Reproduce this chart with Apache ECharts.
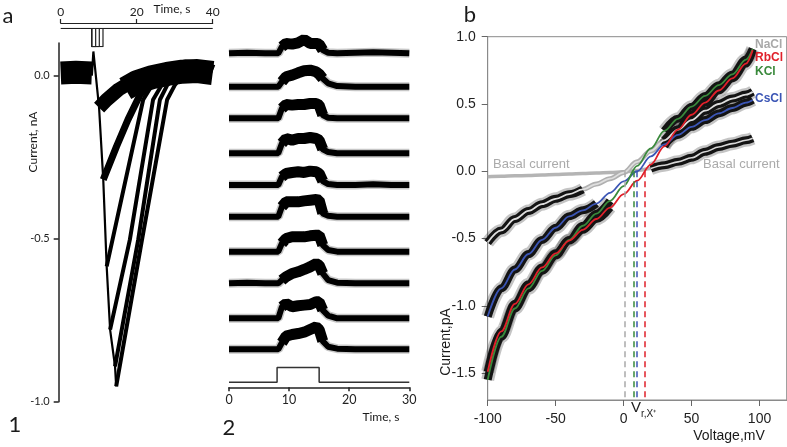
<!DOCTYPE html>
<html><head><meta charset="utf-8">
<script src="https://cdn.jsdelivr.net/npm/echarts@6/dist/echarts.min.js"></script>
<style>html,body{margin:0;padding:0;background:#fff}#c{width:787px;height:447px}</style>
</head><body><div id="c"></div>
<script>
// ===== Panel a1: current traces (time s, current nA) =====
const a1XTicks = [0, 20, 40];
const a1YTicks = [-1.0, -0.5, 0.0];
const a1Pre  = [[0,0.008],[4,0.01],[8.2,0.008]];
const a1Drop = [[8.2,0.0],[8.6,0.074],[10.1,-0.098],[11.2,-0.319],[12.1,-0.585],[13.0,-0.779],[14.3,-0.892],[14.6,-0.953]];
const a1Tail = [[17,-0.04],[20,-0.02],[24,-0.005],[28,0.005],[32,0.012],[36,0.014],[40,0.008]];
const a1Tr1 = [[10.1,-0.098],[12,-0.075],[15.2,-0.043],[19.6,-0.012],[23.9,-0.003],[28.3,0.009],[32.7,0.028],[37.1,0.025],[40,0.012]];
const a1Tr2 = [[11.2,-0.319],[14.7,-0.217],[17.7,-0.135],[20.9,-0.058],[23.5,-0.028],[26,-0.012]];
const a1Tr3 = [[12.1,-0.585],[21.7,-0.074],[24,-0.03],[26.5,-0.01]];
const a1Tr4 = [[13.0,-0.779],[18.2,-0.503],[24.3,-0.074],[26.5,-0.03],[28.2,-0.006]];
const a1Tr5 = [[14.3,-0.892],[20.4,-0.503],[26.1,-0.074],[28,-0.03],[30.1,-0.006]];
const a1Tr6 = [[14.6,-0.953],[21.4,-0.503],[28.0,-0.074],[30,-0.03],[32,0.0]];
// stimulus pulses (s)
const a1StimStart = 8.16;
const a1StimEnds = [9.2, 10.16, 11.13];

// ===== Panel a2: stacked traces (time s, relative units) =====
const a2XTicks = [0, 10, 20, 30];
const a2T = [0, 3, 6, 8.2, 8.8, 9.5, 10.5, 11.5, 12.5, 13.5, 14.5, 15.0, 15.6, 16.5, 18, 21, 24, 27, 30];
const a2Offsets = [10.12, 9.11, 8.15, 7.09, 6.13, 5.17, 4.11, 3.15, 2.09, 1.15];
const a2Tr1  = [0,0.02,0,0,0.2,0.3,0.28,0.32,0.42,0.3,0.3,0.28,0.1,0.02,0,0.02,0.03,0.02,0];
const a2Tr2  = [0,0,0,0,0.15,0.3,0.35,0.42,0.48,0.5,0.45,0.38,0.25,0.1,0.02,0,0,0,0];
const a2Tr3  = [0,0,0,0,0.3,0.42,0.4,0.42,0.42,0.45,0.45,0.4,0.1,0.02,0,0,0,0,0];
const a2Tr4  = [0,0,0,0,0.3,0.45,0.4,0.45,0.45,0.48,0.45,0.4,0.12,0.04,0,0,0,0,0];
const a2Tr5  = [0,0,0,0,0.25,0.35,0.38,0.4,0.38,0.42,0.4,0.35,0.12,0.03,0,0,0.02,0,0];
const a2Tr6  = [0,0,0,0,0.3,0.45,0.45,0.45,0.48,0.5,0.52,0.5,0.1,0.03,0,0,0,0,0];
const a2Tr7  = [0,0,0,0,0.25,0.4,0.45,0.45,0.45,0.48,0.5,0.5,0.2,0.05,0,0,0,0,0];
const a2Tr8  = [0,0.02,0,0,0.1,0.2,0.3,0.35,0.42,0.5,0.6,0.55,0.3,0.1,0.02,0,0,0,0];
const a2Tr9  = [0,0,0,0,0.35,0.45,0.35,0.38,0.4,0.42,0.5,0.5,0.25,0.08,0,0,0,0,0];
const a2Tr10 = [0,0,0,0,0.2,0.4,0.45,0.48,0.52,0.6,0.68,0.6,0.25,0.08,0.02,0,0,0,0];
const a2StepT = [0, 8, 8, 15, 15, 30];
const a2StepV = [0.15, 0.15, 0.6, 0.6, 0.15, 0.15];

// ===== Panel b: I-V curves (mV, pA) =====
const bXTicks = [-100, -50, 0, 50, 100];
const bYTicks = [-1.5, -1.0, -0.5, 0.0, 0.5, 1.0];
const bV     = [-100,-90,-80,-70,-60,-50,-40,-30,-20,-10,0,10,20,30,40,50,60,70,80,90,95];
const basal  = [-0.04,-0.037,-0.034,-0.031,-0.028,-0.025,-0.021,-0.017,-0.013,-0.009,-0.004,0.005,0.02,0.045,0.07,0.1,0.145,0.18,0.205,0.23,0.245];
const nacl   = [-0.53,-0.44,-0.355,-0.295,-0.245,-0.205,-0.17,-0.135,-0.095,-0.055,-0.01,0.07,0.15,0.23,0.31,0.38,0.45,0.5,0.54,0.57,0.59];
const cscl   = [-1.08,-0.87,-0.73,-0.615,-0.51,-0.42,-0.335,-0.29,-0.24,-0.16,-0.075,0.0,0.11,0.2,0.27,0.33,0.38,0.43,0.47,0.51,0.53];
const rbcl   = [-1.49,-1.19,-0.985,-0.84,-0.715,-0.61,-0.515,-0.435,-0.355,-0.27,-0.17,-0.07,0.05,0.185,0.31,0.42,0.51,0.6,0.69,0.8,0.9];
const kcl    = [-1.55,-1.23,-1.02,-0.87,-0.74,-0.625,-0.51,-0.405,-0.315,-0.22,-0.11,0.04,0.17,0.3,0.39,0.48,0.56,0.64,0.72,0.83,0.91];
const vrNames  = ['NaCl', 'KCl', 'CsCl', 'RbCl'];
const vrValues = [0.8, 7.2, 9.9, 15.8];

const COL = {NaCl:'#a9a9a9', RbCl:'#e0202a', KCl:'#3a8a3c', CsCl:'#3b55b5'};

// ---------- helpers ----------
function ln(xi, yi, data, width, color, extra) {
  return Object.assign({type:'line', xAxisIndex:xi, yAxisIndex:yi, data:data, symbol:'none',
    silent:true, animation:false, lineStyle:{width:width, color:color}}, extra || {});
}
function pairs(xs, ys) { return xs.map((x,i)=>[x, ys[i]]); }
function sub(xs, ys, lo, hi) { return pairs(xs, ys).filter(p=>p[0]>=lo && p[0]<=hi); }
const SM = {smooth:0.35, smoothMonotone:'x'};

const series = [];
// a1
series.push(ln(0,0,a1Pre,23,'#000'));
series.push(ln(0,0,a1Tail,24,'#000'));
series.push(ln(0,0,a1Drop,2.2,'#000'));
series.push(ln(0,0,a1Tr1,14,'#000'));
series.push(ln(0,0,a1Tr2,7,'#000'));
[a1Tr3,a1Tr4,a1Tr5,a1Tr6].forEach(d=>series.push(ln(0,0,d,4,'#000')));
// a1 stimulus
series.push(ln(1,1,[[0,1],[40,1]],1.2,'#222'));
a1StimEnds.forEach(e=>series.push(ln(1,1,[[a1StimStart,1],[a1StimStart,0],[e,0],[e,1]],1.2,'#222')));
// a2
const a2Tr = [a2Tr1,a2Tr2,a2Tr3,a2Tr4,a2Tr5,a2Tr6,a2Tr7,a2Tr8,a2Tr9,a2Tr10];
a2Tr.forEach((tr,k)=>{
  const d = a2T.map((t,i)=>[t, a2Offsets[k] + tr[i]]);
  series.push(ln(2,2,d,9,'rgba(0,0,0,0.22)'));
  series.push(ln(2,2,d,6,'#000'));
  series.push(ln(2,2,d.filter(p=>p[0]>=8.5 && p[0]<=15.6),11,'#000'));
});
series.push(ln(2,2,pairs(a2StepT,a2StepV),1.5,'#333'));
// b : fuzz & black noise bands
const bandSets = [
  [basal, 20, 95], [nacl, -100, -25], [nacl, 25, 95],
  [cscl, -100, -12], [cscl, 28, 95],
  [rbcl, -100, -5], [rbcl, 30, 95], [kcl, -100, -5], [kcl, 25, 95]
];
series.push(ln(3,3,pairs(bV,basal),3.5,'#b4b4b4',SM));
series.push(ln(3,3,pairs(bV,nacl),5,'#b0b0b0',SM));
bandSets.forEach(b=>series.push(ln(3,3,sub(bV,b[0],b[1],b[2]),13,'rgba(60,60,60,0.3)',SM)));
bandSets.forEach(b=>series.push(ln(3,3,sub(bV,b[0],b[1],b[2]),8,'#141414',SM)));
series.push(ln(3,3,sub(bV,basal,15,95),1.6,'#d8d8d8',SM));
series.push(ln(3,3,pairs(bV,nacl),1.8,'#dedede',SM));
series.push(ln(3,3,pairs(bV,cscl),1.8,COL.CsCl,SM));
series.push(ln(3,3,pairs(bV,kcl),1.8,COL.KCl,SM));
series.push(ln(3,3,pairs(bV,rbcl),1.8,COL.RbCl,SM));
// reversal potentials
series.push({type:'line', xAxisIndex:3, yAxisIndex:3, data:[], silent:true, animation:false,
  markLine:{symbol:'none', silent:true, animation:false, label:{show:false},
    data: vrValues.map((v,i)=>[{coord:[v,0], lineStyle:{color:COL[vrNames[i]], type:[6,4], width:1.5}},{coord:[v,-1.7]}])}});

const FA = 'Lato, "Open Sans", sans-serif';
const FB = '"Liberation Sans", Arial, sans-serif';
function txt(x,y,text,size,opt){
  opt = opt||{};
  return {type:'text', x:x, y:y, rotation:opt.rot||0, z:100, silent:true,
    style:{text:text, fontSize:size, fontFamily:opt.ff||FA, fontWeight:opt.fw||'normal', fill:opt.fill||'#1a1a1a',
      textAlign:opt.al||'center', textVerticalAlign:'middle', align:opt.al||'center', verticalAlign:'middle'}};
}

const option = {
  backgroundColor:'#fff',
  animation:false,
  grid:[
    {left:60.7, top:43, width:152, height:358.7},
    {left:60.7, top:28.3, width:152, height:18.4},
    {left:229, top:30.9, width:180.3, height:356.4},
    {left:487.7, top:36.7, width:299, height:363.3, show:true, borderColor:'#8a8a8a', borderWidth:1, backgroundColor:'transparent'}
  ],
  xAxis:[
    {gridIndex:0, type:'value', min:0, max:40, interval:20, position:'top', offset:20,
      axisLine:{onZero:false, lineStyle:{color:'#222', width:1.2}}, axisTick:{length:4, lineStyle:{color:'#222', width:1.2}},
      axisLabel:{fontSize:12, fontFamily:FA, color:'#222', margin:5}, splitLine:{show:false}},
    {gridIndex:1, type:'value', min:0, max:40, show:false},
    {gridIndex:2, type:'value', min:0, max:30, interval:10,
      axisLine:{onZero:false, lineStyle:{color:'#222', width:1.5}}, axisTick:{length:4, lineStyle:{color:'#222', width:1.5}},
      axisLabel:{fontSize:12.5, fontFamily:FA, color:'#222', margin:6}, splitLine:{show:false}},
    {gridIndex:3, type:'value', min:-100, max:120,
      axisLine:{onZero:false, lineStyle:{color:'#8a8a8a'}}, axisTick:{length:6, customValues:bXTicks, lineStyle:{color:'#666'}},
      axisLabel:{customValues:bXTicks, fontSize:14, fontFamily:FB, color:'#222', margin:12}, splitLine:{show:false}}
  ],
  yAxis:[
    {gridIndex:0, type:'value', min:-1.0, max:0.1, offset:2,
      axisLine:{onZero:false, lineStyle:{color:'#222', width:1.5}}, axisTick:{length:5, customValues:a1YTicks, lineStyle:{color:'#222', width:1.5}},
      axisLabel:{customValues:a1YTicks, fontSize:11, fontFamily:FA, color:'#222', margin:9, formatter:v=>v.toFixed(1)}, splitLine:{show:false}},
    {gridIndex:1, type:'value', min:0, max:1, show:false},
    {gridIndex:2, type:'value', min:0, max:10.8, show:false},
    {gridIndex:3, type:'value', min:-1.7, max:1.0,
      axisLine:{onZero:false, lineStyle:{color:'#8a8a8a'}}, axisTick:{length:6, customValues:bYTicks, lineStyle:{color:'#666'}},
      axisLabel:{customValues:bYTicks, fontSize:14, fontFamily:FB, color:'#222', margin:12, formatter:v=>v.toFixed(1)}, splitLine:{show:false}}
  ],
  series: series,
  graphic:[
    txt(8,16,'a',22), txt(470,15,'b',22), txt(15,425,'1',22), txt(229,428,'2',22),
    txt(172,9,'Time, s',12),
    txt(33,142,'Current, nA',12,{rot:Math.PI/2}),
    txt(381,417,'Time, s',12),
    txt(446,342,'Current,pA',14,{rot:Math.PI/2, ff:FB}),
    txt(729,436,'Voltage,mV',14,{ff:FB}),
    txt(493,164,'Basal current',13,{ff:FB, al:'left', fill:'#aaaaaa'}),
    txt(703,164,'Basal current',13,{ff:FB, al:'left', fill:'#aaaaaa'}),
    txt(755,45,'NaCl',12,{ff:FB, al:'left', fw:'bold', fill:COL.NaCl}),
    txt(755,58,'RbCl',12,{ff:FB, al:'left', fw:'bold', fill:COL.RbCl}),
    txt(755,72,'KCl',12,{ff:FB, al:'left', fw:'bold', fill:COL.KCl}),
    txt(755,99,'CsCl',12,{ff:FB, al:'left', fw:'bold', fill:COL.CsCl}),
    txt(631,408,'V',15,{ff:FB, al:'left'}),
    txt(641,414,'r,X\u207A',10,{ff:FB, al:'left'})
  ]
};
echarts.init(document.getElementById('c'), null, {renderer:'canvas'}).setOption(option);
</script></body></html>
